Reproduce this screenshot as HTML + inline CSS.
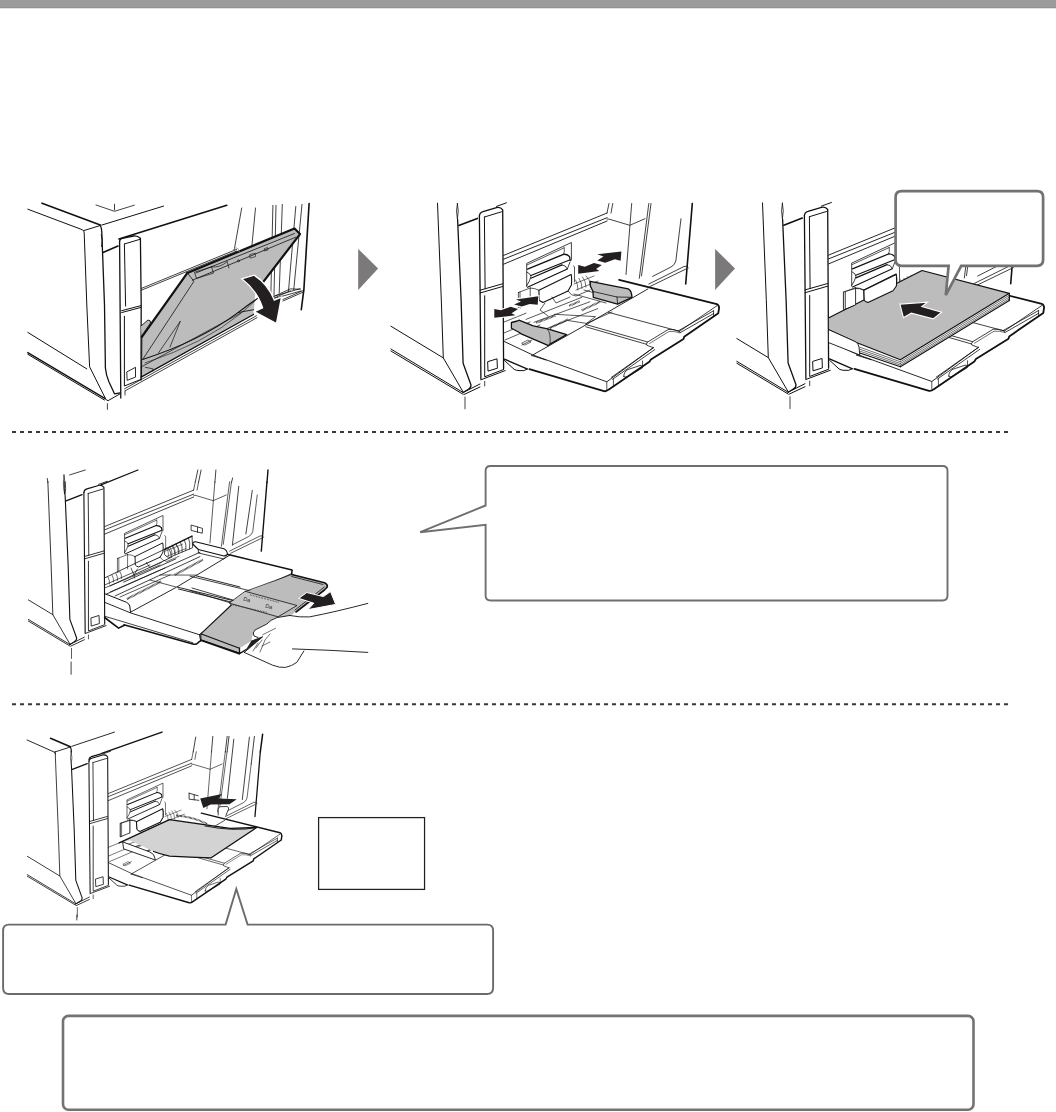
<!DOCTYPE html>
<html><head><meta charset="utf-8"><title>Bypass tray</title>
<style>
html,body{margin:0;padding:0;background:#fff;width:1056px;height:1112px;overflow:hidden;font-family:"Liberation Sans",sans-serif;}
svg{position:absolute;left:0;top:0;display:block}
</style></head><body>
<svg width="1056" height="1112" viewBox="0 0 1056 1112">
<defs><clipPath id="c4"><rect x="28" y="465" width="350" height="215"/></clipPath><clipPath id="c5"><rect x="27" y="751" width="275" height="175"/></clipPath><clipPath id="c3"><rect x="736.5" y="190" width="320" height="230"/></clipPath></defs>
<!-- top bar -->
<rect x="0" y="0" width="1056" height="7" fill="#9b9b9b"/>
<rect x="0" y="7" width="1056" height="1" fill="#939393"/>
<rect x="0" y="8" width="1056" height="1" fill="#e2e2e2"/>

<!-- ILLUSTRATIONS -->
<g id="ill1" fill="none" stroke="#111" stroke-width="1" stroke-linejoin="round" stroke-linecap="round">
<path d="M241.7 208 L234.2 250 M255.5 208 L251.5 250 M272.9 205.4 L270.8 297.1 M276 205.4 L274 295 M282.3 204.4 L279.2 292.9 M295.8 206.5 L288.5 290.8 M302 204.4 L293.75 289.8" stroke-width="0.8"/>
<path d="M270.8 297.1 L300 288.75 M274 298.5 L301 291" stroke-width="0.8"/>
<!-- gray tray -->
<path d="M187.4 272.9 L294.5 228.5 L300 234.1 L263.7 282.1 L255 295 L253.8 314.5 L141.5 377.5 L141.9 336.9 Z" fill="#bcbcbc" stroke="none"/>
<!-- machine body -->
<path d="M27.8 209.2 L82.5 229.8 Q84.2 231 84.2 233 L86.8 305 L89.6 366.8 L105.2 398 Q106.2 400.8 108.2 400.6 L120.1 393.8"/>
<path d="M42 203.2 L100.3 225.1" stroke-width="1.6"/>
<path d="M83.8 230.6 L100.3 225.5"/>
<path d="M101.7 225.1 L163.5 206.1"/>
<path d="M96 205 L114.5 211.3 L134.3 205.2 M114.5 204.2 V210" stroke-width="0.8"/>
<path d="M100.3 225.5 Q101.8 228 101.8 232 L104.5 305 L105.4 368 Q106 375 109 382 L114.5 393.8 L120.1 392.8" stroke-width="1.3"/>
<path d="M101.3 234.5 Q103.3 240 101.6 246.5" stroke-width="0.9"/>
<path d="M103 252.5 L118 246.1" stroke-width="1.6"/>
<path d="M27.8 332.4 L86.8 368.9"/>
<path d="M27.8 352.6 L105.2 398.7" stroke-width="1.4"/>
<path d="M27.8 354.3 L104.4 400"/>
<path d="M107.4 403.7 V409.4 M125 391 V395" stroke-width="0.8"/>
<!-- panel -->
<path d="M119.6 241.5 Q119.6 239 122 238.3 L133.6 236 Q137.5 235.6 140.4 238.3 L141.2 305 L141 380" stroke-width="1.3"/>
<path d="M119.6 241.5 L120.8 398" stroke-width="1.3"/>
<path d="M124.4 244 L140 239.3 M124.4 244 L125.6 306"/>
<path d="M121.6 310.7 L140.7 305.7 M121.6 312.6 L140.7 307.5"/>
<path d="M124.4 316.3 L124.4 386 L140.9 379.4"/>
<path d="M124.5 388.8 L256.4 315.8 M125.2 390.8 L257 317.7" stroke-width="0.8"/>
<path d="M127.1 371.8 L135.5 367.3 L135.5 377.1 L127.5 380.2 Z" stroke-width="0.9"/>
<!-- opening -->
<path d="M119 239 L226.8 205.2" stroke-width="1.6"/>
<path d="M141.4 288.4 L236.7 249.3 M141.4 290.2 L236.7 251" stroke-width="0.8"/>
<!-- right side panel lines -->


<path d="M309.1 203.5 L303.9 289.2 L301.3 309.7" stroke-width="1.6"/>
<path d="M273.1 296.8 L290.3 288.9 L300.4 289.2 M273.1 298.6 L290.3 290.7 M283 299.5 L303.9 290.2 M283 301 L303.9 291.8" stroke-width="0.8"/>
<!-- tray lines -->
<path d="M187.4 272.9 L294.5 228.5 L300 234.1 L263.1 282.2 L257 292" stroke-width="2.2"/>
<path d="M187.4 272.9 L141.9 336.9" stroke-width="2.2"/>
<path d="M196 272.9 L294.5 233.5 M192.3 280.2 L295.7 237.2" stroke-width="0.8"/>
<path d="M187.4 273 L193.9 281.3 L142.7 359.4" stroke-width="0.8"/>
<path d="M194.8 272.1 L211.5 266.9 L213.5 273.1 L196.9 278.3 Z" stroke-width="0.7"/>
<path d="M211.5 266.9 Q220 268 227.1 261.7 M227.1 261.7 L229 268" stroke-width="0.7"/>
<circle cx="238.5" cy="260.8" r="1.1" stroke-width="0.6"/>
<path d="M250 254.6 L255.2 253.2 L255.6 256.6 L250.4 258 Z M264.6 248.5 L267.7 247.6 L268 250 L264.9 250.9 Z" stroke-width="0.6"/>
<path d="M232.5 252.3 Q233 248 236 247.8 Q239 248 239.2 251.5" stroke="#999" stroke-width="0.8"/>
<path d="M141.9 336.9 L141.5 378" stroke-width="0.9"/>
<path d="M142.7 359.4 Q200 341 237.9 312.6 Q252 302 262 295.5" stroke-width="1.1"/>
<path d="M145 363 Q205 343 240 314 Q250 306 258 298" stroke-width="0.6"/>
<path d="M141.1 377.1 L253.5 314.5" stroke-width="1.3"/>
<path d="M141.1 367 L240.7 313 M145.3 367.3 L152.9 368.8 L152.9 371" stroke-width="0.7"/>

<path d="M237.9 312.6 L253.5 309.7" stroke-width="0.9"/>
<path d="M141 326 L148 320 Q151 320 150.5 323 L141.5 336" fill="#bcbcbc" stroke-width="0.9"/>
<path d="M158.4 353 L180.4 321.1 L170 347" stroke-width="0.7"/>
<!-- arrow -->
<path d="M241.7 278.8 L254.2 275.2 Q268 284 274.3 300 L281.5 297.1 L276.5 323.6 L254.2 311.7 L262.5 307.8 Q257.5 291 241.7 278.8 Z" fill="#231f20" stroke="#fff" stroke-width="1.4" stroke-linejoin="miter"/>
</g>
<g id="m2" fill="none" stroke="#111" stroke-width="1" stroke-linejoin="round" stroke-linecap="round">
<!-- machine body -->
<path d="M437.5 203.2 L441.3 300 L443.3 357.9 L463.1 392"/>
<path d="M390.9 326.2 L443.3 357.9"/>
<path d="M457.4 203.5 Q455.6 211 457.4 219.1 Q459.2 211 457.4 203.5 Z" stroke-width="0.8"/>
<path d="M457.6 219.5 L461.1 300 L463.1 363.3 L471 385 Q471 388.5 468 389.5 L463.1 392.5" stroke-width="1.3"/>
<path d="M458.8 225.5 L477.3 218.4" stroke-width="1.6"/>
<path d="M390.9 349 L463.1 392.5 M390.9 351 L463 394.2" stroke-width="1"/>
<path d="M463.1 392.5 L480 384 M464 394.5 L480 387" />
<!-- panel -->
<path d="M479.4 216 Q479.6 212.5 483 211.6 L496.5 207.6 Q500.5 206.8 502.7 209.8 L503.6 368.5" stroke-width="1.3"/>
<path d="M479.4 216 L480.9 379.1" stroke-width="1.3"/>
<path d="M484.4 217 L501.5 211.8 M484.4 217 L485.1 288.8"/>
<path d="M480.1 290.2 L502.6 283.8 M480.1 293 L502.6 286.5"/>
<path d="M484.7 295.8 L484.7 376.8 L503.6 369.5"/>
<path d="M480.9 379.8 L505.2 370.6"/>
<path d="M488 361.6 L497 358.8 L497.4 368.2 L488.4 371 Z"/>
<path d="M484.7 381.4 V386 M465 397 V408.8" stroke-width="0.8"/>
<path d="M496.5 206.4 L506.4 202.8"/>
<!-- rails -->
<path d="M503.6 255.4 L607.1 213 M503.6 259.2 L607.1 217.7 M503.6 264.2 L607.1 221" stroke-width="0.9"/>
<path d="M607.1 219 Q610 219 612 220 L629.8 225.3 L645 218.7 M609 203.5 L607 213 M612.8 203.5 L611 213" stroke-width="0.8"/>
<!-- right side -->
<path d="M631.7 203.5 L626 274.5 M648.8 203.5 L639.3 278.3 M651 203.5 L641.5 276" stroke-width="0.8"/>
<path d="M681 218.7 L675.8 261 Q675 265 671 267 L652.6 276.4" stroke-width="0.8"/>
<path d="M692.3 203.5 L685.7 284" stroke-width="1.6"/>
<path d="M648.8 284 L684 266.5 Q687 265 688.5 268 M650 286.5 L686 269" stroke-width="0.8"/>
<!-- feed mechanism -->
<path d="M526.7 286.5 L526.7 263.4 L571.4 242.5 L571.4 260" stroke-width="0.8"/>
<path d="M527.1 264.9 L564.2 247.8 M564.2 247.8 Q565 252 563.5 254.3" stroke-width="0.7"/>
<path d="M527.5 269.1 L563.5 254.3 Q567 254 569.5 256.6 L570.3 260.7" stroke-width="1.3"/>
<path d="M530.9 275.5 L569.5 260 M530.9 278.2 L562 264.9" stroke-width="1.2"/>
<path d="M527.1 272.1 Q531 274 530.9 276.6 Q530 281 526.7 285.7" stroke-width="0.8"/>
<path d="M562 264.9 Q566 265 567.3 269.1 L570 262" stroke-width="0.8"/>
<path d="M527.5 287.2 L567.3 269.1 M538.9 290.3 L571.1 274.4 Q572 278 571.4 285 L568 291 L543 302.4 Q540 301.5 539.2 300.1 L538.9 290.3" stroke-width="1.1"/>
<path d="M518.4 292.5 L530.2 288 M518.4 292.5 L518.4 309 M520 292 L520 308.4 M530.2 288 L530.2 304.6 M530.2 288 Q535 288 538.9 290.3" stroke-width="0.7"/>
<path d="M573.3 266 L574.5 266.8 L574.5 281.9" stroke-width="0.7"/>
<path d="M575.6 280 Q578 284 578 290 M579 278.5 Q582 282 582 288.5 M582.5 277 Q586 281 586 287 M586 276 Q590 279 590.5 285 M574 284 L594 276 M576 290 L598 281" stroke-width="0.6"/>
<path d="M568 291 Q571 296 576 296 L590 290 M552 297 L556 303 L570 297" stroke-width="0.7"/>
</g>
<g id="t2" fill="none" stroke="#111" stroke-width="1" stroke-linejoin="round" stroke-linecap="round">
<!-- tray lines -->
<path d="M503.6 341.2 L532.4 354.8 L606.8 381.8 L653.4 347.7" stroke-width="0.9"/>
<path d="M717 305.7 L679.5 331.3 M713.6 310.8 L678.4 330.7 M713.6 313.6 L680 332.8 M713.6 310.8 L713.6 316" stroke-width="0.8"/>
<path d="M679.5 331.3 Q673 328.8 668.2 329.5 L647.7 342 Q645.5 344.2 647 345.4 L653.4 347.7" stroke-width="0.8"/>
<path d="M680 332.8 Q674 331 669 331.5 L649.5 343.5" stroke-width="0.6"/>
<path d="M653.4 347.7 L611.4 377.3 M654.8 349.6 L612.5 379.3" stroke-width="0.8"/>
<path d="M623.9 376.5 Q623.5 372 628 369.5 L640 365.5 Q643.5 365.5 642.3 368 L629 375.8 Q625 378 623.9 376.5 Z" stroke-width="0.8"/>
<path d="M606.8 381.8 L606.8 389.6 M613.4 379 L613.4 386.5 M642.5 361 L642.5 366" stroke-width="0.7"/>
<path d="M529.4 369.2 L604 391.2 Q606.5 391.6 608.5 389.7 L649.4 361.7 L650.9 359.4 L683.5 339 L684.2 336.7 L718.3 313.2 L719.1 307.9 Q719 305 716.8 304.1 L619.1 279.8" stroke-width="1.8"/>
<path d="M504.5 360.5 L514.1 369.3 Q516 370.5 519 370.6 L523.8 370.6 L527.5 369" stroke-width="1"/>
<path d="M504.5 359.2 L527 368.9" stroke-width="1.4"/>

<path d="M536.4 322.8 L555.7 315.5 M550 328 L568.2 319.4 M569.3 305.8 L579.5 301.3 M581.8 310.3 L600 301.8" stroke="#222" stroke-width="2.1" stroke-dasharray="0.7 0.6" stroke-linecap="butt"/>
<path d="M531.8 355.5 L580 328.2 L647.9 288.9 M546 360 L531.8 355.5" stroke-width="0.9"/>
<path d="M608.5 312.4 L679.5 331.3 M585.8 324.5 L647.7 342 M585.8 326.8 L646.6 344.3" stroke-width="0.8"/>


<path d="M584 290 L620 300 M574 294 L606 303 M503.4 322.3 L526 313.2 M526 319.4 L581.8 297.3 M534 322.3 L589.8 301.8 M545.5 329.1 L597.7 308.6 M504 333 L530 322" stroke-width="0.7"/>
<path d="M554.5 314.3 L595.5 316.6 L586.4 323.4 L568 320.5 M586.4 323.4 L612 312" stroke-width="0.7"/>
<path d="M545 303 L540 310 L548 316 M505 340 L540 325 M522 345 L532 340" stroke-width="0.7"/>
<path d="M522 343 L528 340 L531 342 L525 345 Z" stroke-width="0.6"/>
</g>
<g id="ill2x" fill="none" stroke="#111" stroke-width="1" stroke-linejoin="round" stroke-linecap="round">
<!-- gray guides -->
<path d="M511.4 322.5 L517.4 321 L518.9 320.2 L533.3 325.9 L547.7 328.9 L566.7 334.6 L550 344.1 L548.5 345.6 L521.2 333.9 L518.9 332.3 L511.4 328.2 Z" fill="#bcbcbc" stroke-width="1.3"/>
<path d="M547.7 329.5 Q551 333 550 344" stroke-width="0.7"/>
<path d="M590.3 281.4 L628.2 288.9 Q631.6 290.5 632 297.3 L617.6 304.1 L593.3 297.3 L593 291.5 L590.3 285.9 Z" fill="#bcbcbc" stroke-width="1.3"/>
<path d="M593 291.5 L617 297 L632 297.3 M617 297 L617.6 304.1" stroke-width="0.8"/>
<!-- arrows -->
<path d="M494.3 309 L500.8 310.2 L510.5 306.8 L518.1 309 L511.6 313.3 L515.3 315.3 L494.3 317.8 Z" fill="#231f20" stroke="#fff" stroke-width="2.2" paint-order="stroke fill" stroke-linejoin="miter"/>
<path d="M515.9 299.4 L538.3 296.3 L537.7 304.8 L529.8 303.9 L521.8 306.5 L514.1 304.5 L521 301.4 Z" fill="#231f20" stroke="#fff" stroke-width="2.2" paint-order="stroke fill" stroke-linejoin="miter"/>
<path d="M578.2 265 L584.8 266.7 L593.9 263 L601.8 265 L596.1 269 L599.5 271 L578.2 273.8 Z" fill="#231f20" stroke="#fff" stroke-width="2.2" paint-order="stroke fill" stroke-linejoin="miter"/>
<path d="M597.3 254.2 L621.4 251.4 L620.6 260.7 L614.9 259.3 L605.2 262.7 L597.3 260.5 L603.5 256.5 Z" fill="#231f20" stroke="#fff" stroke-width="2.2" paint-order="stroke fill" stroke-linejoin="miter"/>
</g>
<g id="ill3" fill="none" stroke="#111" stroke-width="1" stroke-linejoin="round" stroke-linecap="round">
<g clip-path="url(#c3)"><use href="#m2" x="325" y="-0.3"/><use href="#t2" x="325" y="-0.3"/></g>
<!-- paper stack -->
<path d="M1009.3 293.3 L1009.3 300.5 L900.4 366.8 L859.9 352.9 L857 342.7 L900.4 359.8 Z" fill="#fff" stroke="none"/>
<path d="M828.9 317.7 L922 270.5 L1009.3 293.3 L900.4 359.8 L857 342.7 L828.9 329.8 Z" fill="#bcbcbc" stroke="none"/>
<path d="M828.9 317.7 L922 270.5 L1009.3 293.3 L900.4 359.8 L857 342.7 L828.9 329.8" stroke-width="1.2"/>
<path d="M1009.3 293.3 L1009.3 300.5" stroke-width="1.3"/>
<path d="M1009.3 295.2 L900.4 361.8 M1009.3 297.1 L900.4 363.6 M1009.3 298.9 L900.4 365.2" stroke-width="0.6"/>
<path d="M1009.3 300.5 L900.4 366.8" stroke-width="1.1"/>
<path d="M859.9 347.2 L900.4 361.8 M859.9 349.2 L900.4 363.6 M859.9 351.1 L900.4 365.2" stroke-width="0.6"/>
<path d="M859.9 352.9 L900.4 366.8" stroke-width="1.1"/>
<!-- feed block over paper -->
<path d="M863.9 290.3 L896.1 274.4 Q897 278 896.4 286 L893 290.8 L868 302.4 Q865 302 864.2 300.1 Z" fill="#fff" stroke-width="1.1"/>
<path d="M843.7 309.5 L843.7 292 L855.6 288.4 L855.6 304.6 Z" fill="#fff" stroke-width="0.8"/>
<path d="M845.4 292 L845.4 308.8" stroke-width="0.7"/>
<path d="M855.6 288.4 Q860 288 863.9 290.3" stroke-width="0.8"/>
<!-- left guide (white) -->
<path d="M828.9 329.8 L855 341.5 Q858.5 343 859 347 L859.8 355 L828.9 342.7" fill="#fff" stroke-width="0.9"/>
<!-- arrow -->
<path d="M899.9 304.1 L927.5 302.1 L921.8 306.6 L941.7 312.3 L933.2 318.9 L911.3 313.2 L903.4 317.7 Z" fill="#231f20" stroke="#fff" stroke-width="1.1" stroke-linejoin="miter"/>
</g>
<g id="ill4" fill="none" stroke="#111" stroke-width="1" stroke-linejoin="round" stroke-linecap="round">
<g clip-path="url(#c4)"><use href="#m2" transform="translate(-328.4 306.9) scale(0.86)"/></g>
<!-- extra top lines -->
<path d="M47.3 478.5 L47.9 482.5 M69.7 474.9 L85.3 470 M197.8 470 L195.3 482 M201.1 470 L198.6 482 M215.9 470 L214.9 482.5 M232.6 478 L231.5 482.5" stroke-width="0.8"/>
<path d="M268 470 L267 482.5" stroke-width="1.4"/>
<path d="M191.5 525.1 L202.5 528.4 L202.3 533.2 L191.5 530.5 Z M197.5 527.2 L197.5 532.3" stroke-width="0.8"/>
<path d="M238.8 486.3 L232.4 545.2 M252.3 490.5 L245.9 533.9" stroke-width="0.8"/>
<path d="M64 474.9 Q62.5 484 64.5 494 Q66 484 64 474.9 Z" stroke-width="0.7"/>
<path d="M101 484.9 L137.9 470" stroke-width="1.3"/>
<path d="M71.1 662 V674.3" stroke-width="0.8"/>
<!-- white cover for tray region -->

<!-- comb -->
<path d="M164.8 549.4 L192 536.1" stroke-width="1.3"/>
<path d="M164.8 549.4 L164.4 554.5 L168.5 557.8 L192.6 547.7 L192 536.1" stroke-width="0.8"/>
<path d="M168.1 547.8 Q171.3 551.7 171.4 556.6 M172.1 545.8 Q175.2 549.9 175.0 555.1 M176.2 543.8 Q179.0 548.2 178.6 553.6 M180.3 541.8 Q182.9 546.4 182.2 552.0 M184.4 539.8 Q186.7 544.7 185.9 550.5 M188.5 537.8 Q190.6 542.9 189.5 549.0" stroke-width="0.7"/>
<!-- right guide -->
<path d="M192.7 544 Q193 541.5 195.5 541.7 L223.9 548.8 Q227 550 227.5 554.5 L224 556 L198.4 549.5 Z" fill="#fff" stroke-width="1.1"/>
<path d="M198.4 549.5 L198.4 553 L224 559 L227.5 554.5" stroke-width="0.8"/>
<path d="M228.2 554.5 L292.1 570 L291.7 573.5" stroke-width="1.6"/>
<!-- tray surface lines -->
<path d="M104.6 593.6 L126.5 602.3 Q129.5 604 129.8 606 L130.5 612.2" fill="#fff" stroke-width="1"/>
<path d="M104.6 602.3 L130.5 612.9 L199.4 634.7" stroke-width="0.9"/>
<path d="M104.6 588 L160 565 M110 592 L165 568 M104.6 585 L150 565 M120 597 L170 575" stroke-width="0.7"/>
<path d="M127 599 L161 581.5" stroke="#222" stroke-width="2.2" stroke-dasharray="0.7 0.6" stroke-linecap="butt"/>
<path d="M174.8 574.8 L202.8 559.8" stroke="#222" stroke-width="2.2" stroke-dasharray="0.7 0.6" stroke-linecap="butt"/>
<path d="M130.5 612.2 L175.6 587.7 M176.9 587 L240 602.3 M178.5 589 L240 604.2" stroke-width="0.9"/>
<path d="M176.9 587 L195.5 575.7 L240 587 M196.8 575.1 L230 555" stroke-width="0.9"/>
<path d="M160 575 L196.8 575.1 M150 580 L176 587" stroke-width="0.7"/>
<path d="M104.7 577.9 L166.3 548.5 M106.6 594 L200 552.3 M115.2 595.9 L200 556.6 M123.7 582.1 L175.8 558.9 M110 586 L172 557" stroke-width="0.8"/>
<path d="M108 577 Q110 580 109.5 584 M112 575 Q114 578 113.5 582 M116 573.5 Q118 576.5 117.5 580.5 M120 571.5 Q122 574.5 121.5 578.5" stroke-width="0.6"/>
<path d="M131 568 L134 575 L137.5 569 M134 575 L134.5 578" stroke-width="0.7"/>
<path d="M190 576.2 L253 591.5 L291.7 573.5 M190 590.6 L231.4 603.2 M192 588 L233 600" stroke-width="0.8"/>
<path d="M104.6 616.2 L192.8 642.7" stroke-width="0.8"/>
<path d="M104.6 617.5 L118.6 628.1 L123.9 625.5 M123.9 624.8 L192.8 644 Q196 645 198.1 642.7 L200.8 640.5" stroke-width="1.6"/>
<path d="M199.4 634.7 L200.8 641.4 M199.4 634.7 L235.2 607.6" stroke-width="0.9"/>
<!-- gray extension -->
<path d="M231.4 603.5 L247.6 591.5 L291.7 574.4 L324.5 582.8 Q327.5 584 327.5 586 L325.8 588.5 L296 611 L289.7 616.9 L276.9 617.6 L266.9 624 L254.1 630.4 L251.3 641.1 L239.5 648.2 L239.2 653 L200.8 640.1 L200.8 633.8 L231.4 605 Z" fill="#bcbcbc" stroke="none"/>
<path d="M291.7 574.4 L324.5 582.8 Q327.8 584.5 327.3 587 L324.4 590 L296 612" stroke-width="1.6"/>
<path d="M291.7 576.5 L323 584.5 M295 610 L324.4 587" stroke-width="0.8"/>
<path d="M245.5 591.4 L297 605.5 L278 616.8 L229.5 603.2 Z" fill="#c6c6c6" stroke-width="0.8"/>
<path d="M245.5 591.4 L291.7 574.4" stroke-width="0.8"/>
<path d="M250 594.8 L278.8 602.4 M230.3 604.3 L266.7 612.3" stroke="#333" stroke-width="1.2" stroke-dasharray="0.6 1" stroke-linecap="butt"/>
<path d="M200.8 633.8 L231.4 605 M200.8 633.8 L239.5 648.2 M200.8 633.8 L200.8 640.1 L239.2 653" stroke-width="1.1"/>
<path d="M200.8 640.1 L239.2 653.6" stroke-width="1.8"/>
<path d="M239.5 648.2 L239.5 653.6 M239.5 653.6 L252 646" stroke-width="1.3"/>
<text x="243" y="600.5" font-size="5.5" font-family="Liberation Sans, sans-serif" fill="#222" stroke="none" transform="rotate(15 243 600.5)">Da</text>
<text x="265" y="607.5" font-size="5.5" font-family="Liberation Sans, sans-serif" fill="#222" stroke="none" transform="rotate(15 265 607.5)">Da</text>
<!-- hand -->
<path d="M289.7 615.5 Q300 617.5 309.5 616.9 Q335 612 368 603.4 L368 652.4 Q330 650 303.9 651 L296.8 662.4 Q292 666.5 285.4 667.4 Q280 668 272.6 665.2 L244.2 652.4 L251.3 641.1 L254.1 630.4 L266.9 624 Q270 620 276.9 617.6 Z" fill="#fff" stroke="none"/>
<path d="M289.7 615.5 Q300 617.5 309.5 616.9 Q335 612 367.8 603.4" stroke-width="0.9"/>
<path d="M289.7 615.5 L276.9 617.6 Q270 620 266.9 624 L255 630 Q252 633 254 636 L258 637.5" stroke-width="0.9"/>
<path d="M244.2 652.4 L272.6 665.2 Q280 668 285.4 667.4 Q292 666 296.8 662.4 L303.9 651" stroke-width="0.9"/>
<path d="M292.5 648.9 Q330 650 367.8 652.4" stroke-width="0.9"/>
<path d="M262.7 634.7 L275.5 628.3 M256 648 L262 640 M253 651 L258 643 M260 652 L265 640 L270 634 M262 646 L270 642" stroke-width="0.6"/>
<path d="M244.2 652.4 L262.7 636.8 L251.3 641.1" fill="#231f20" stroke-width="0.8"/>
<!-- arrow -->
<path d="M307.1 592.6 L323.4 596.6 L330.5 591.6 L335.7 604.4 L308 609.6 L313.9 603.2 L299 598.5 Z" fill="#231f20" stroke="#fff" stroke-width="1" stroke-linejoin="miter"/>
</g>
<g id="ill5" fill="none" stroke="#111" stroke-width="1" stroke-linejoin="round" stroke-linecap="round">
<g clip-path="url(#c5)"><use href="#m2" transform="translate(-297 587.9) scale(0.805)"/><use href="#t2" transform="translate(-297 587.9) scale(0.805)"/></g>
<!-- machine top (ill5) -->
<path d="M27.1 740 L54.1 752 Q55.4 752.6 55.5 754" stroke-width="0.9"/>
<path d="M50.5 738.2 L70.4 746.8" stroke-width="1.5"/>
<path d="M54.8 752 L70.4 747" stroke-width="0.9"/>
<path d="M71.8 746.3 L114.5 732.1" stroke-width="0.9"/>
<path d="M70.4 747 Q71.6 749 71.3 752" stroke-width="1.2"/>
<path d="M101.7 753.4 L162 732.1" stroke-width="1.5"/>
<path d="M88.9 759.8 Q89 757.5 91.5 756.6 L101 753.8" stroke-width="1.2"/>
<path d="M195.7 737.1 L193.2 752 M212.8 736.4 L211.5 752 M227.2 736.4 L225.3 752 M229 736.4 L227.1 752 M254.4 736.4 L251.2 764" stroke-width="0.8"/>
<path d="M233.8 739.2 L227.4 798.2 M249.4 737.1 L242.3 799.6" stroke-width="0.8"/>
<path d="M262.6 734.3 L260.3 752" stroke-width="1.5"/>
<path d="M218.2 815 L218.2 809 Q218.4 806.8 220.5 806.7 L227 806.5 Q229 807 228.6 809 L226 815.2" fill="#fff" stroke-width="0.8"/>
<path d="M176 815.5 Q194 817 207.5 824.2" stroke="#222" stroke-width="2" stroke-dasharray="0.7 0.6" stroke-linecap="butt"/>
<path d="M76.8 915 V920" stroke-width="0.8"/>
<!-- paper -->
<path d="M119.2 842.9 L169.5 819.7 Q200 822 230 828.3 L256.7 827.5 L211.2 857.8 Q190 857.5 169.5 856.2 Q160 854 153.6 851.5 L129.8 840.3 Z" fill="#d3d3d3" stroke="none"/>
<path d="M119.2 842.9 L169.5 819.7 L230 828.3 L256.7 827.5 L211.2 857.8 Q190 857.5 169.5 856.2 Q160 854 153.6 851.5" stroke-width="1.3"/>
<path d="M205 826 Q235 832 256.7 827.5" stroke-width="0.9"/>
<!-- feed block over paper -->
<path d="M136.8 821.6 L162.7 808.8 Q163.4 812 163 817.3 L160.2 822.2 L140.1 831.3 Q137.5 831 137.1 829.5 Z" fill="#fff" stroke-width="1"/>
<path d="M120.3 836.5 L120.3 823.4 L129.8 820.4 L129.8 832.5 Z" fill="#fff" stroke-width="0.8"/>
<path d="M121.6 823 L121.6 836" stroke-width="0.6"/>
<path d="M129.8 820.4 Q133.5 820 136.8 821.6" stroke-width="0.7"/>
<path d="M189.1 793.2 L198.2 795.8 M189.1 793.2 L189.1 799.2 L198.8 800.3 M194.2 795 L194.2 799.8" stroke-width="0.8"/>
<!-- left guide (white) -->
<path d="M123 842 L150 852 Q154.5 854 155 858.5 L155.3 860 L124 849 Z" fill="#fff" stroke-width="0.9"/>

<!-- arrow -->
<path d="M200.2 798.4 L222 794.1 L218.6 798.4 L236.8 799.2 L229.4 804.3 L210.7 804.6 L203.3 808 Z" fill="#231f20" stroke="none"/>
</g>

<!-- step arrows -->
<path d="M358.2 248.9 L378.1 268.4 L358.2 289.9 Z" fill="#7b797a"/>
<path d="M715.1 248.9 L735 268.4 L715.1 289.9 Z" fill="#7b797a"/>

<!-- callout 1 (top right) -->
<path d="M901.6 191.1 H1037.1 Q1043.1 191.1 1043.1 197.1 V259.8 Q1043.1 265.8 1037.1 265.8 H961.2 L945.8 295.1 L948.6 265.8 H901.6 Q895.6 265.8 895.6 259.8 V197.1 Q895.6 191.1 901.6 191.1 Z" fill="#fff" stroke="#737172" stroke-width="2.7" stroke-linejoin="miter"/>

<!-- dashed lines -->
<line x1="12" y1="431.9" x2="1008" y2="431.9" stroke="#3a3839" stroke-width="2" stroke-dasharray="4 4"/>
<line x1="12" y1="704.35" x2="1008" y2="704.35" stroke="#3a3839" stroke-width="2" stroke-dasharray="4 4"/>

<!-- callout 2 -->
<path d="M490.6 466 H942.5 Q947.5 466 947.5 471 V595.5 Q947.5 600.5 942.5 600.5 H490.6 Q485.6 600.5 485.6 595.5 V524.9 L420.2 532.2 L485.6 505.5 V471 Q485.6 466 490.6 466 Z" fill="#fff" stroke="#706e6f" stroke-width="1.9"/>

<!-- small rect -->
<rect x="318.6" y="817.6" width="105.95" height="71.8" fill="#fff" stroke="#231f20" stroke-width="1.25"/>

<!-- callout 3 -->
<path d="M9 924.6 H225.6 L236.3 889 L247.6 924.6 H487.1 Q493.1 924.6 493.1 930.6 V988 Q493.1 994 487.1 994 H9 Q3.1 994 3.1 988 V930.6 Q3.1 924.6 9 924.6 Z" fill="#fff" stroke="#6c6a6b" stroke-width="1.9"/>

<!-- bottom box -->
<rect x="63" y="1015.9" width="910.5" height="93.9" rx="5.5" fill="#fff" stroke="#747273" stroke-width="2.6"/>
</svg>
</body></html>
